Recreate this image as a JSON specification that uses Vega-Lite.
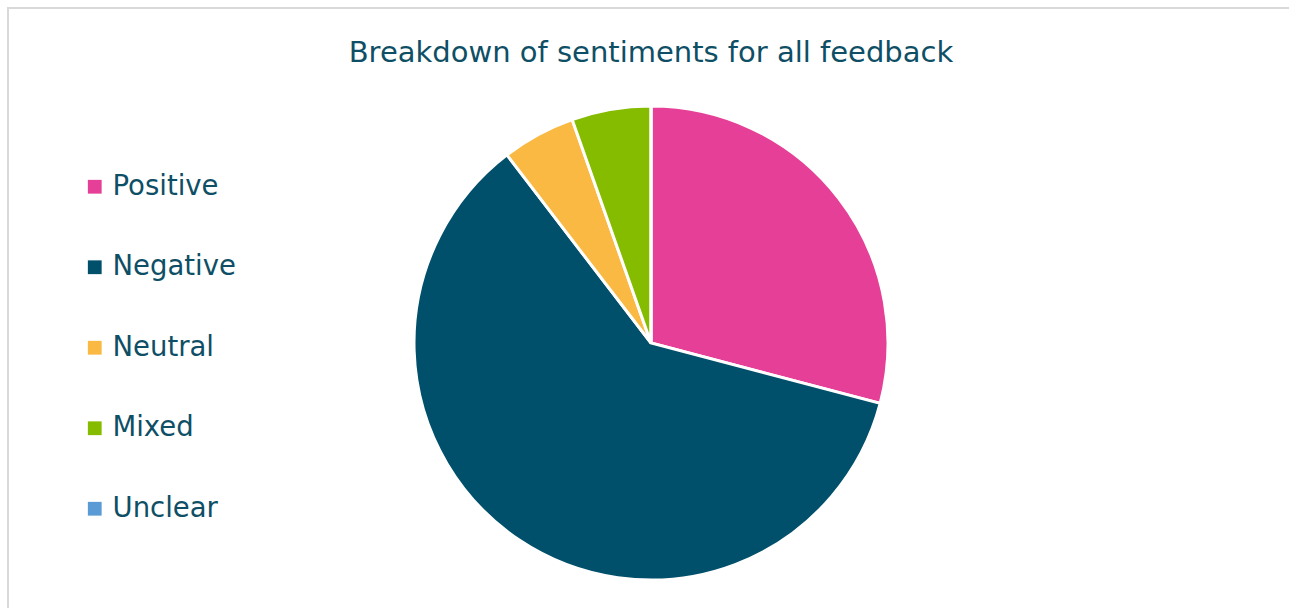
{
  "$schema": "https://vega.github.io/schema/vega-lite/v6.json",
  "width": 1286,
  "height": 670,
  "autosize": {"type": "none"},
  "padding": {"left": 8, "top": 8, "right": 0, "bottom": 0},
  "background": "white",
  "view": {"stroke": "#d9d9d9", "strokeWidth": 2, "fill": "white"},
  "config": {
    "font": "DejaVu Sans"
  },
  "title": {
    "text": "Breakdown of sentiments for all feedback",
    "frame": "group",
    "anchor": "middle",
    "orient": "top",
    "offset": -60,
    "fontSize": 29,
    "fontWeight": "normal",
    "color": "#0E4F66",
    "font": "DejaVu Sans"
  },
  "data": {
    "values": [
      {"sentiment": "Positive", "pct": 29.1, "ord": 1},
      {"sentiment": "Negative", "pct": 60.5, "ord": 2},
      {"sentiment": "Neutral", "pct": 5.0, "ord": 3},
      {"sentiment": "Mixed", "pct": 5.4, "ord": 4},
      {"sentiment": "Unclear", "pct": 0, "ord": 5}
    ]
  },
  "mark": {"type": "arc", "outerRadius": 237, "stroke": "white", "strokeWidth": 3},
  "encoding": {
    "theta": {"field": "pct", "type": "quantitative", "stack": true},
    "order": {"field": "ord", "type": "quantitative"},
    "color": {
      "field": "sentiment",
      "type": "nominal",
      "scale": {
        "domain": ["Positive", "Negative", "Neutral", "Mixed", "Unclear"],
        "range": ["#E63F97", "#004F6B", "#F9B942", "#86BC00", "#5B9BD5"]
      },
      "legend": {
        "title": null,
        "orient": "none",
        "legendX": 73,
        "legendY": 165,
        "symbolType": "square",
        "symbolSize": 190,
        "symbolStrokeWidth": 0,
        "labelFontSize": 27.5,
        "labelColor": "#0E4F66",
        "labelFont": "DejaVu Sans",
        "labelOffset": 4,
        "rowPadding": 51.5,
        "labelLimit": 300
      }
    }
  }
}
